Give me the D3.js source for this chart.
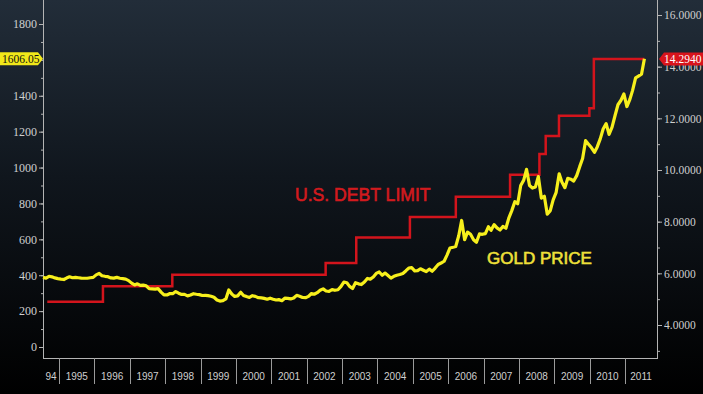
<!DOCTYPE html>
<html>
<head>
<meta charset="utf-8">
<script src="https://cdn.jsdelivr.net/npm/d3@7"></script>
<style>
  html, body { margin: 0; padding: 0; background: #000; }
  svg { display: block; }
</style>
</head>
<body>
<svg width="703" height="394"></svg>
<script>
// ---------------- DATA ----------------
// gold, monthly (USD/oz), first point 1994-07-19, last point 2011-07-19
const goldStart = '1994-07-19';
const goldPrice = [
  388, 384, 394, 391, 385, 381,
  378, 376, 384, 391, 386, 388, 386, 384, 383, 383, 386, 388,
  402, 410, 397, 394, 392, 385, 384, 388, 383, 381, 378, 370,
  356, 346, 352, 343, 345, 341, 325, 324, 323, 325, 306, 290,
  290, 298, 297, 309, 300, 293, 293, 285, 290, 297, 294, 292,
  287, 288, 286, 283, 277, 262, 256, 258, 268, 318, 295, 282,
  285, 305, 287, 281, 276, 286, 282, 275, 274, 271, 266, 272,
  266, 262, 264, 258, 272, 271, 268, 273, 288, 283, 276, 275,
  282, 298, 294, 303, 316, 324, 312, 310, 320, 316, 319, 336,
  362, 358, 338, 326, 358, 352, 348, 362, 382, 378, 390, 410,
  418, 400, 412, 398, 384, 394, 400, 404, 410, 424, 440, 442,
  424, 426, 436, 428, 420, 434, 422, 440, 460, 468, 478, 512,
  552, 556, 560, 620, 705, 598, 640, 628, 598, 584, 630, 628,
  632, 670, 650, 682, 664, 652, 672, 662, 720, 760, 810, 798,
  900, 930, 990, 900, 886, 892, 950, 830, 840, 740, 760, 820,
  862, 965, 920, 888, 940, 935, 925, 955, 1005, 1050, 1150, 1130,
  1110, 1085, 1115, 1160, 1215, 1245, 1185, 1225, 1290, 1350, 1375, 1410,
  1340, 1380, 1430, 1500, 1510, 1520, 1606.05
];

// US debt limit (USD trillions), step changes
const debtDates = ['1994-09-01', '1996-03-29', '1998-03-15', '2002-07-15', '2003-05-27',
                   '2004-12-01', '2006-03-20', '2007-10-01', '2008-07-30', '2008-10-03',
                   '2009-02-17', '2009-12-28', '2010-02-12', '2011-07-19'];
const debtLimit = [4.9, 5.5, 5.95, 6.4, 7.384, 8.184, 8.965, 9.815, 10.615, 11.315,
                   12.104, 12.394, 14.294, 14.294];

const yearLabels = ['94', '1995', '1996', '1997', '1998', '1999', '2000', '2001', '2002',
                    '2003', '2004', '2005', '2006', '2007', '2008', '2009', '2010', '2011'];
// 1600 sits under the last-price tag in the original, so it carries no label
const leftTicks = [0, 200, 400, 600, 800, 1000, 1200, 1400, 1800];
const rightTicks = [4, 6, 8, 10, 12, 14, 16];

const parse = d3.timeParse('%Y-%m-%d');
const gold = goldPrice.map((v, i) => ({date: d3.timeMonth.offset(parse(goldStart), i), value: v}));
const debt = debtDates.map((d, i) => ({date: parse(d), value: debtLimit[i]}));

// ---------------- LAYOUT ----------------
const W = 703, H = 394;
const plot = {left: 43, right: 657, bottom: 358};

const svg = d3.select('svg');

const defs = svg.append('defs');
const grad = defs.append('linearGradient')
    .attr('id', 'bg').attr('x1', 0).attr('y1', 0).attr('x2', 0).attr('y2', 1);
grad.append('stop').attr('offset', '0%').attr('stop-color', '#222d39');
grad.append('stop').attr('offset', '45%').attr('stop-color', '#10161d');
grad.append('stop').attr('offset', '100%').attr('stop-color', '#000');
svg.append('rect').attr('width', W).attr('height', H).attr('fill', 'url(#bg)');

//--------------SCALES---------------------------------------
const x = d3.scaleTime()
    .domain([parse('1994-07-19'), parse('2011-11-26')])
    .range([plot.left, plot.right]);
const yL = d3.scaleLinear().domain([0, 1800]).range([347, 24]);
const yR = d3.scaleLinear().domain([4, 16]).range([325, 15]);

//--------------AXES----------------------------------------
const axisColor = '#b4b4b4';
const labelColor = '#cfcfcf';

function styleAxis(g) {
  g.select('.domain').remove();
  g.selectAll('line').attr('stroke', axisColor);
  g.selectAll('text').attr('fill', labelColor)
    .style('font-family', '"Liberation Serif", serif').style('font-size', '12px');
}

svg.append('g')
    .attr('transform', `translate(${plot.left},0)`)
    .call(d3.axisLeft(yL).tickValues(d3.range(100, 1900, 100)).tickSize(2).tickFormat(''))
    .call(styleAxis);
svg.append('g')
    .attr('transform', `translate(${plot.left},0)`)
    .call(d3.axisLeft(yL).tickValues(leftTicks).tickSize(4).tickPadding(2).tickFormat(d3.format('d')))
    .call(styleAxis);

svg.append('g')
    .attr('transform', `translate(${plot.right + 1},0)`)
    .call(d3.axisRight(yR).tickValues(d3.range(3, 17, 1)).tickSize(2).tickFormat(''))
    .call(styleAxis);
svg.append('g')
    .attr('transform', `translate(${plot.right + 1},0)`)
    .call(d3.axisRight(yR).tickValues(rightTicks).tickSize(4).tickPadding(2).tickFormat(d3.format('.4f')))
    .call(styleAxis)
    .selectAll('text').style('font-size', '11.5px');

// frame lines
svg.append('line').attr('x1', plot.left + 0.5).attr('x2', plot.left + 0.5)
    .attr('y1', 0).attr('y2', plot.bottom).attr('stroke', axisColor);
svg.append('line').attr('x1', plot.right + 0.5).attr('x2', plot.right + 0.5)
    .attr('y1', 0).attr('y2', plot.bottom).attr('stroke', axisColor);
svg.append('line').attr('x1', plot.left).attr('x2', plot.right + 1)
    .attr('y1', plot.bottom + 0.5).attr('y2', plot.bottom + 0.5).attr('stroke', axisColor);

// year cells on the bottom
const yearStarts = d3.range(1994, 2012).map(y => new Date(y, 0, 1));
const xAxis = svg.append('g');
xAxis.selectAll('line.sep')
  .data(yearStarts.slice(1))
  .enter().append('line')
    .attr('class', 'sep')
    .attr('x1', d => Math.round(x(d)) + 0.5).attr('x2', d => Math.round(x(d)) + 0.5)
    .attr('y1', plot.bottom).attr('y2', 384)
    .attr('stroke', '#9a9a9a');
xAxis.selectAll('text')
  .data(yearStarts)
  .enter().append('text')
    .attr('x', d => {
      const a = Math.max(x(d), plot.left);
      const b = Math.min(x(d3.timeYear.offset(d, 1)), plot.right);
      return (a + b) / 2;
    })
    .attr('y', 380)
    .attr('text-anchor', 'middle')
    .attr('fill', labelColor)
    .style('font-family', '"Liberation Sans", Arial, sans-serif')
    .style('font-size', '10px')
    .text((d, i) => yearLabels[i]);

//-------------SERIES----------------------------------------------
const debtLine = d3.line()
    .x(d => x(d.date))
    .y(d => yR(d.value))
    .curve(d3.curveStepAfter);
svg.append('path')
    .datum(debt)
    .attr('fill', 'none')
    .attr('stroke', '#d3141c')
    .attr('stroke-width', 2.5)
    .attr('d', debtLine);

const goldLine = d3.line()
    .x(d => x(d.date))
    .y(d => yL(d.value));
svg.append('path')
    .datum(gold)
    .attr('fill', 'none')
    .attr('stroke', '#f7ef1c')
    .attr('stroke-width', 3.2)
    .attr('stroke-linejoin', 'round')
    .attr('d', goldLine);

//-------------LABELS----------------------------------------------
svg.append('text')
    .attr('x', 295).attr('y', 201)
    .attr('fill', '#d21a1e')
    .attr('stroke', '#d21a1e').attr('stroke-width', 0.6)
    .style('font-family', '"Liberation Sans", Arial, sans-serif')
    .style('font-size', '17.6px')
    .text('U.S. DEBT LIMIT');
svg.append('text')
    .attr('x', 487).attr('y', 264)
    .attr('fill', '#efe03a')
    .attr('stroke', '#efe03a').attr('stroke-width', 0.6)
    .style('font-family', '"Liberation Sans", Arial, sans-serif')
    .style('font-size', '17px')
    .text('GOLD PRICE');

// last value tags
const lastGold = gold[gold.length - 1].value;
const gy = yL(lastGold);
svg.append('path')
    .attr('d', `M0,${gy - 6.5}H${plot.left - 5}L${plot.left},${gy}L${plot.left - 5},${gy + 6.5}H0Z`)
    .attr('fill', '#f2e81a');
svg.append('text')
    .attr('x', 2).attr('y', gy + 4)
    .attr('fill', '#111')
    .style('font-family', '"Liberation Serif", serif')
    .style('font-size', '11.5px')
    .text(d3.format('.2f')(lastGold));

const lastDebt = debt[debt.length - 1].value;
const dy = yR(lastDebt);
svg.append('path')
    .attr('d', `M${plot.right + 2},${dy}L${plot.right + 7},${dy - 6.5}H${W}V${dy + 6.5}H${plot.right + 7}Z`)
    .attr('fill', '#d8141c');
svg.append('text')
    .attr('x', plot.right + 7).attr('y', dy + 4)
    .attr('fill', '#fff')
    .style('font-family', '"Liberation Serif", serif')
    .style('font-size', '11.5px')
    .text(d3.format('.4f')(lastDebt));
</script>
</body>
</html>
